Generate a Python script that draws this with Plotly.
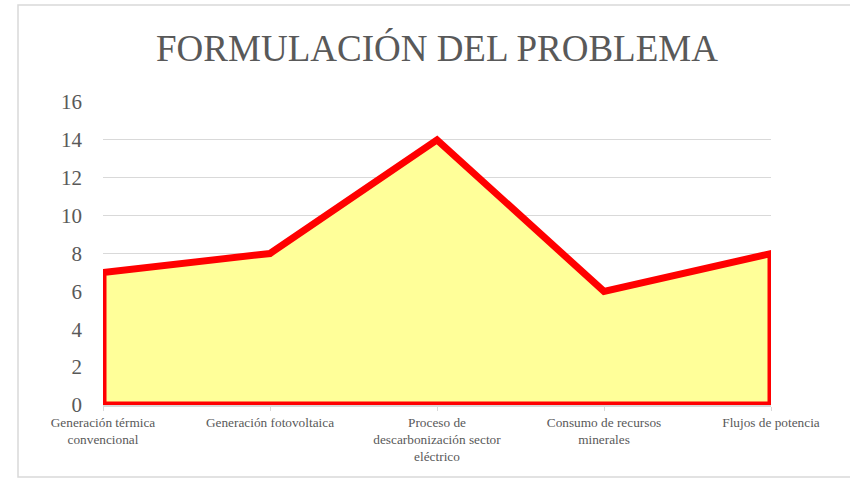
import plotly.graph_objects as go

categories = [
    "Generación térmica<br>convencional",
    "Generación fotovoltaica",
    "Proceso de<br>descarbonización sector<br>eléctrico",
    "Consumo de recursos<br>minerales",
    "Flujos de potencia",
]
values = [7, 8, 14, 6, 8]
y_ticks = [0, 2, 4, 6, 8, 10, 12, 14, 16]

n = len(values)
idx = list(range(n))
xs = [idx[0]] + idx + [idx[-1], idx[0]]
ys = [0] + values + [0, 0]

fig = go.Figure()
fig.add_trace(go.Scatter(
    x=xs, y=ys, mode="lines", fill="toself",
    fillcolor="#FFFF99",
    line=dict(color="#FF0000", width=7),
    hoverinfo="skip", showlegend=False,
))

W, H = 850, 478
L, R, T, B = 103, 79, 102, 73
pw, ph = W - L - R, H - T - B

def px_x(x):
    return (x - L) / pw

def px_y(y):
    return (H - B - y) / ph

fig.add_shape(type="rect", xref="paper", yref="paper",
              x0=px_x(18), x1=px_x(853), y0=px_y(477), y1=px_y(5),
              line=dict(color="#D9D9D9", width=1.5), layer="below")

fig.update_layout(
    width=W, height=H,
    margin=dict(l=L, r=R, t=T, b=B),
    paper_bgcolor="white", plot_bgcolor="white",
    font=dict(family="Liberation Serif, Times New Roman, serif", color="#595959"),
    title=dict(text="FORMULACIÓN DEL PROBLEMA", x=0.5, xref="paper",
               y=1 - 48 / H, yref="container", yanchor="middle", xanchor="center",
               font=dict(size=37, color="#595959",
                         family="Liberation Serif, Times New Roman, serif")),
    xaxis=dict(range=[0, n - 1], tickvals=idx, ticktext=categories,
               showgrid=False, zeroline=False, showline=True,
               linecolor="#D9D9D9", linewidth=1.5,
               ticks="outside", ticklen=4, tickcolor="#D9D9D9",
               tickfont=dict(size=13.3, color="#595959"), tickangle=0),
    yaxis=dict(range=[0, 16], tickvals=y_ticks, showgrid=True,
               gridcolor="#D9D9D9", gridwidth=1.3, zeroline=False,
               showline=False, ticks="", ticklabelstandoff=20,
               tickfont=dict(size=21, color="#595959")),
)

fig.write_html("out.html",
               config={"displayModeBar": False},
               post_script="document.body.style.margin='0';document.body.style.overflow='hidden';")
